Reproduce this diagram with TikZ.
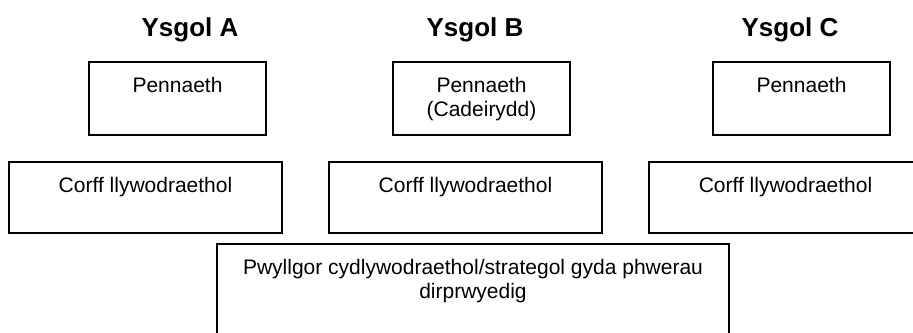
\documentclass[tikz,border=0pt]{standalone}
\usepackage{fontspec}
\setmainfont{Liberation Sans}

\begin{document}
\begin{tikzpicture}[x=0.5pt,y=-0.5pt,
        box/.style={draw, line width=0.9pt, inner sep=0pt},
        txt/.style={anchor=base, align=center, font=\fontsize{10.5}{12.25}\selectfont},
        head/.style={anchor=base, font=\fontsize{13}{15}\selectfont\bfseries}]
        \clip (0,0) rectangle (913,332);

        \node at (190,36) [head] (ysgolA) {Ysgol A};
        \node at (475,36) [head] (ysgolB) {Ysgol B};
        \node at (790,36) [head] (ysgolC) {Ysgol C};

        \node at (177.5,98.5) [box, minimum width=88.5pt, minimum height=36.5pt] (pennA) {};
        \node at (481.5,98.5) [box, minimum width=88.5pt, minimum height=36.5pt] (pennB) {};
        \node at (801.5,98.5) [box, minimum width=88.5pt, minimum height=36.5pt] (pennC) {};
        \node at ([yshift=-15.5pt]pennA.north) [txt] (tpennA) {Pennaeth};
        % two lines: base sits on the last line
        \node at ([yshift=-27.75pt]pennB.north) [txt] (tpennB) {Pennaeth\\(Cadeirydd)};
        \node at ([yshift=-15.5pt]pennC.north) [txt] (tpennC) {Pennaeth};

        \node at (145.5,197.5) [box, minimum width=136.5pt, minimum height=35.5pt] (corffA) {};
        \node at (465.5,197.5) [box, minimum width=136.5pt, minimum height=35.5pt] (corffB) {};
        \node at (785.5,197.5) [box, minimum width=136.5pt, minimum height=35.5pt] (corffC) {};
        \node at ([yshift=-15.5pt]corffA.north) [txt] (tcorffA) {Corff llywodraethol};
        \node at ([yshift=-15.5pt]corffB.north) [txt] (tcorffB) {Corff llywodraethol};
        \node at ([yshift=-15.5pt]corffC.north) [txt] (tcorffC) {Corff llywodraethol};

        \node at (473,292) [box, minimum width=256pt, minimum height=48pt] (pwyllgor) {};
        \node at ([yshift=-27.75pt]pwyllgor.north) [txt] (tpwyllgor)
            {Pwyllgor cydlywodraethol/strategol gyda phwerau\\dirprwyedig};
    \end{tikzpicture}
\end{document}
